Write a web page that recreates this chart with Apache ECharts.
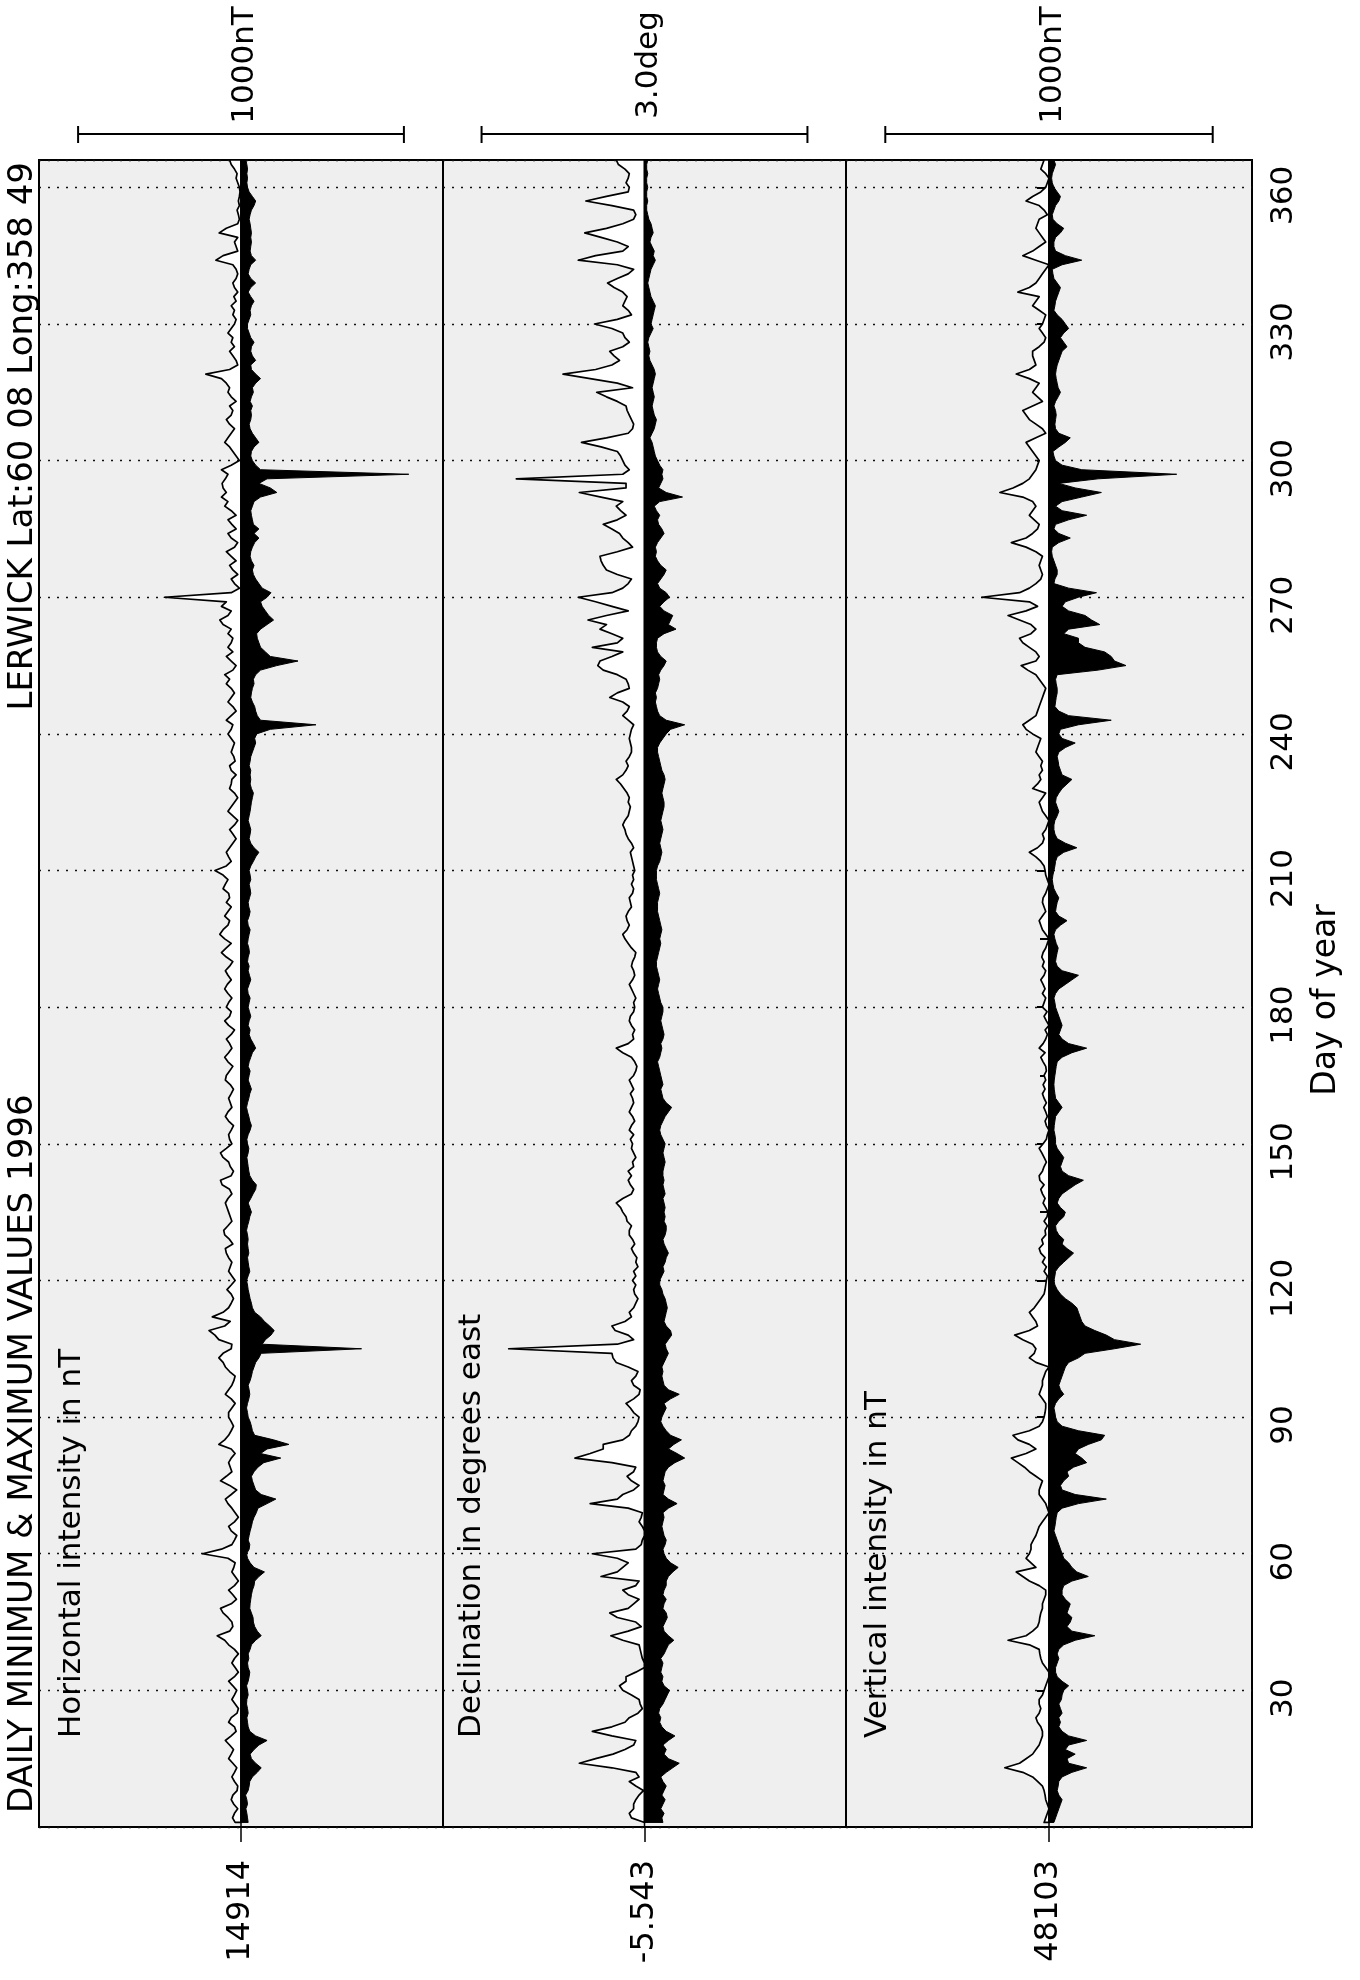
<!DOCTYPE html>
<html>
<head>
<meta charset="utf-8">
<script src="https://cdn.jsdelivr.net/npm/echarts@6/dist/echarts.min.js"></script>
<style>
html,body{margin:0;padding:0;background:#fff;}
#chart{width:1360px;height:1980px;}
</style>
</head>
<body>
<div id="chart"></div>
<script>
// ---------------- data ----------------
const titleText = 'DAILY MINIMUM & MAXIMUM VALUES 1996';
const stationText = 'LERWICK Lat:60 08 Long:358 49';
const panelNames = ['Horizontal intensity in nT', 'Declination in degrees east', 'Vertical intensity in nT'];
const baselines = [14914, -5.543, 48103];
const scaleSpans = [1000, 3.0, 1000];
const scaleLabels = ['1000nT', '3.0deg', '1000nT'];
const panelHalfRange = [620, 1.855, 620];
const dayTicks = [30, 60, 90, 120, 150, 180, 210, 240, 270, 300, 330, 360];
const dayAxisName = 'Day of year';
const days = Array.from({length: 366}, (_, i) => i + 1);

// H: daily maximum above baseline (nT)
const hMax = [
18,26,20,10,22,30,25,12,10,20,
28,20,13,25,38,30,23,35,48,30,
15,20,38,30,12,8,18,28,20,13,
25,38,20,8,18,28,20,8,20,38,
50,73,35,25,28,40,55,63,30,14,
25,38,20,8,18,28,22,18,40,118,
60,28,20,13,30,38,20,8,18,28,
40,48,30,13,35,63,45,28,33,38,
30,18,30,68,50,38,30,23,30,38,
38,28,18,30,48,38,28,22,18,35,
48,55,68,55,30,28,68,80,98,50,
33,88,55,38,30,23,30,43,30,18,
28,38,33,28,38,45,48,25,35,50,
53,40,28,33,38,43,48,40,28,35,
58,63,30,23,33,38,55,63,45,28,
35,38,30,23,38,48,40,28,33,38,
30,23,33,48,45,35,25,40,50,38,
28,35,45,30,20,38,50,35,30,45,
38,28,40,50,42,30,40,48,35,25,
45,60,45,30,50,65,55,40,35,50,
40,30,45,35,38,55,48,40,55,80,
45,30,38,45,35,25,15,25,35,20,
10,25,40,30,20,10,20,35,30,28,
15,30,35,18,22,30,25,20,30,40,
30,25,45,30,15,25,40,30,20,30,
45,35,50,25,15,30,45,25,40,30,
25,40,30,55,65,40,30,60,45,235,
30,5,20,30,10,25,35,15,30,45,
20,10,30,40,15,28,40,15,30,50,
40,60,45,55,58,48,40,60,30,5,
15,25,35,50,40,30,20,35,45,30,
25,35,15,30,40,35,45,60,108,35,
10,15,25,35,20,30,25,40,30,20,
15,25,20,30,15,22,10,20,25,15,
10,15,25,77,55,10,15,20,10,67,
45,10,5,8,12,5,8,5,3,5,
10,15,12,20,30,35];

// H: daily minimum below baseline (nT)
const hMin = [
22,20,18,15,20,18,14,22,25,27,
35,50,62,45,32,28,40,55,80,45,
27,22,20,18,22,20,17,18,22,20,
17,22,25,27,22,20,24,22,28,32,
45,62,50,42,38,37,32,27,28,30,
32,35,40,42,55,72,40,28,20,17,
25,27,22,25,28,32,35,40,47,52,
80,107,62,45,40,35,32,40,52,70,
122,60,80,147,100,42,35,32,28,22,
20,17,20,24,27,25,22,28,32,35,
40,45,55,62,370,65,75,92,102,88,
72,60,42,35,32,28,25,22,20,17,
22,27,24,22,20,24,22,20,22,20,
17,20,24,27,32,27,22,30,37,45,
47,35,27,24,22,20,18,22,24,20,
18,22,28,32,27,24,20,17,20,24,
27,32,27,22,25,28,22,25,30,35,
45,38,30,25,28,22,25,30,26,22,
25,28,22,20,25,30,26,22,25,20,
22,26,24,20,22,25,28,22,20,25,
28,24,22,26,30,28,25,30,28,25,
30,38,45,55,40,30,25,28,30,26,
22,25,28,30,32,35,38,32,28,30,
28,30,25,28,30,35,40,45,42,48,
90,230,60,50,45,42,35,30,32,35,
40,38,45,60,110,175,90,75,60,55,
50,48,60,80,100,85,75,65,60,80,
92,65,55,45,38,35,40,32,28,30,
35,42,55,40,55,38,35,32,30,35,
40,60,110,90,55,80,515,60,45,35,
30,32,40,55,45,35,28,25,30,32,
30,35,28,32,38,35,45,60,45,32,
30,45,35,30,32,40,30,25,20,20,
25,30,28,32,40,30,22,30,45,30,
22,25,30,45,32,28,30,32,30,32,
30,28,25,28,32,40,45,35,25,20,
18,20,18,20,18,15];

// D: daily maximum above baseline (degrees)
const dMax = [
0.0,0.12,0.14,0.1,0.1,0.08,0.05,0.01,0.08,0.14,
0.05,0.08,0.3,0.6,0.45,0.29,0.18,0.1,0.08,0.3,
0.48,0.3,0.18,0.14,0.06,0.02,0.04,0.05,0.12,0.2,
0.23,0.17,0.17,0.08,0.0,0.0,0.02,0.03,0.04,0.05,
0.2,0.31,0.15,0.03,0.08,0.25,0.32,0.15,0.1,0.05,
0.15,0.2,0.08,0.05,0.4,0.25,0.2,0.15,0.25,0.48,
0.08,0.03,0.02,0.0,0.0,0.02,0.05,0.03,0.02,0.15,
0.5,0.25,0.2,0.1,0.05,0.12,0.16,0.1,0.08,0.3,
0.64,0.5,0.38,0.38,0.2,0.14,0.12,0.08,0.06,0.05,
0.1,0.13,0.17,0.1,0.05,0.04,0.1,0.12,0.08,0.06,
0.15,0.26,0.29,0.3,1.25,0.25,0.1,0.15,0.27,0.3,
0.18,0.12,0.14,0.1,0.08,0.06,0.09,0.1,0.08,0.11,
0.08,0.1,0.06,0.08,0.07,0.1,0.12,0.09,0.11,0.14,
0.14,0.12,0.16,0.17,0.2,0.22,0.26,0.2,0.12,0.1,
0.13,0.15,0.12,0.15,0.1,0.11,0.08,0.1,0.12,0.11,
0.13,0.1,0.14,0.12,0.09,0.11,0.14,0.12,0.1,0.11,
0.13,0.1,0.12,0.14,0.1,0.08,0.07,0.09,0.12,0.2,
0.26,0.15,0.1,0.11,0.09,0.12,0.14,0.13,0.1,0.09,
0.1,0.08,0.1,0.12,0.14,0.11,0.09,0.1,0.12,0.11,
0.09,0.08,0.12,0.15,0.18,0.2,0.16,0.14,0.16,0.17,
0.15,0.12,0.13,0.14,0.11,0.1,0.12,0.1,0.11,0.09,
0.1,0.11,0.12,0.13,0.1,0.12,0.15,0.17,0.18,0.2,
0.18,0.15,0.14,0.13,0.15,0.14,0.16,0.19,0.22,0.26,
0.2,0.17,0.15,0.17,0.14,0.12,0.12,0.13,0.14,0.13,
0.12,0.1,0.15,0.2,0.16,0.14,0.2,0.32,0.25,0.14,
0.15,0.17,0.25,0.38,0.43,0.41,0.3,0.2,0.48,0.25,
0.2,0.3,0.41,0.35,0.52,0.35,0.15,0.3,0.45,0.61,
0.3,0.2,0.15,0.12,0.25,0.35,0.38,0.4,0.41,0.25,
0.11,0.15,0.2,0.23,0.3,0.38,0.25,0.17,0.22,0.26,
0.2,0.4,0.6,0.17,0.17,1.18,0.2,0.14,0.18,0.2,
0.22,0.25,0.4,0.58,0.35,0.15,0.11,0.1,0.12,0.14,
0.16,0.17,0.25,0.35,0.44,0.11,0.25,0.5,0.75,0.45,
0.3,0.23,0.28,0.32,0.2,0.14,0.18,0.2,0.3,0.46,
0.25,0.12,0.15,0.2,0.18,0.16,0.2,0.28,0.34,0.25,
0.15,0.1,0.25,0.61,0.45,0.2,0.15,0.25,0.4,0.55,
0.35,0.2,0.1,0.08,0.1,0.3,0.54,0.35,0.15,0.14,
0.17,0.15,0.14,0.18,0.24,0.26];

// D: daily minimum below baseline (degrees)
const dMin = [
0.17,0.16,0.18,0.15,0.17,0.19,0.16,0.18,0.2,0.17,
0.15,0.2,0.26,0.32,0.22,0.18,0.2,0.17,0.22,0.28,
0.2,0.16,0.14,0.15,0.13,0.14,0.17,0.19,0.21,0.23,
0.18,0.16,0.17,0.15,0.16,0.17,0.15,0.18,0.2,0.22,
0.27,0.22,0.18,0.17,0.19,0.21,0.2,0.17,0.18,0.2,
0.17,0.18,0.2,0.2,0.22,0.26,0.31,0.24,0.2,0.18,
0.17,0.19,0.2,0.18,0.17,0.16,0.17,0.18,0.17,0.22,
0.3,0.22,0.17,0.18,0.19,0.17,0.18,0.19,0.22,0.28,
0.37,0.3,0.22,0.27,0.34,0.24,0.2,0.17,0.15,0.16,
0.18,0.2,0.18,0.24,0.32,0.22,0.18,0.17,0.16,0.17,
0.16,0.18,0.2,0.22,0.2,0.19,0.22,0.25,0.24,0.2,
0.18,0.19,0.2,0.21,0.2,0.19,0.17,0.16,0.14,0.14,
0.16,0.18,0.17,0.19,0.2,0.22,0.2,0.18,0.17,0.19,
0.2,0.2,0.18,0.19,0.18,0.19,0.18,0.17,0.19,0.18,
0.17,0.18,0.17,0.17,0.18,0.19,0.18,0.17,0.18,0.19,
0.17,0.15,0.14,0.15,0.17,0.19,0.22,0.25,0.2,0.17,
0.16,0.15,0.17,0.16,0.15,0.14,0.13,0.12,0.14,0.15,
0.16,0.15,0.17,0.18,0.17,0.16,0.15,0.16,0.17,0.17,
0.15,0.14,0.13,0.12,0.13,0.14,0.13,0.12,0.11,0.11,
0.12,0.13,0.14,0.15,0.14,0.15,0.16,0.15,0.14,0.13,
0.12,0.12,0.12,0.13,0.14,0.13,0.12,0.11,0.11,0.11,
0.12,0.14,0.15,0.16,0.15,0.14,0.15,0.16,0.17,0.16,
0.15,0.16,0.17,0.18,0.18,0.17,0.16,0.17,0.18,0.19,
0.18,0.16,0.15,0.14,0.13,0.12,0.12,0.14,0.17,0.2,
0.24,0.37,0.2,0.14,0.12,0.11,0.1,0.11,0.1,0.12,
0.13,0.14,0.13,0.15,0.18,0.2,0.15,0.12,0.11,0.11,
0.12,0.18,0.29,0.22,0.24,0.26,0.18,0.14,0.18,0.23,
0.2,0.14,0.12,0.15,0.18,0.2,0.15,0.12,0.1,0.11,
0.1,0.12,0.15,0.18,0.16,0.13,0.12,0.14,0.11,0.09,
0.14,0.35,0.2,0.13,0.15,0.17,0.16,0.17,0.14,0.12,
0.1,0.09,0.08,0.07,0.05,0.07,0.09,0.1,0.11,0.09,
0.08,0.07,0.08,0.09,0.08,0.07,0.08,0.09,0.1,0.09,
0.07,0.05,0.04,0.05,0.04,0.03,0.04,0.06,0.08,0.06,
0.07,0.08,0.09,0.1,0.08,0.06,0.05,0.04,0.03,0.04,
0.05,0.06,0.08,0.1,0.08,0.09,0.07,0.05,0.06,0.08,
0.07,0.06,0.04,0.03,0.02,0.02,0.03,0.02,0.02,0.03,
0.02,0.02,0.03,0.02,0.02,0.03];

// Z: daily maximum above baseline (nT)
const zMax = [
15,10,5,0,5,10,12,15,20,35,
50,80,135,90,70,50,40,30,25,20,
20,25,35,40,30,25,30,30,20,15,
10,5,0,0,10,20,25,28,30,60,
125,70,50,35,30,28,25,20,20,15,
10,10,30,60,80,100,40,55,70,60,
55,55,48,40,35,30,20,10,0,5,
10,20,30,30,25,20,40,60,75,95,
115,70,40,60,95,110,60,30,20,15,
12,10,10,20,30,25,20,20,15,10,
0,40,60,45,40,50,80,105,60,35,
40,50,60,45,35,25,15,12,10,8,
5,15,8,20,12,25,30,18,22,10,
12,5,15,6,3,10,18,12,20,25,
15,28,30,20,15,8,15,22,30,18,
8,5,0,8,12,5,10,16,8,15,
20,12,18,10,15,8,10,18,25,12,
30,18,10,5,12,0,8,15,6,20,
15,10,20,12,18,25,15,10,20,15,
22,18,10,5,0,10,20,25,30,20,
10,15,20,18,10,5,0,5,10,12,
15,25,40,60,35,20,15,20,10,5,
0,10,20,25,30,20,10,50,35,25,
30,20,25,20,30,40,35,30,25,50,
70,80,60,40,35,30,25,20,15,10,
20,30,40,65,85,40,30,40,60,80,
90,55,40,55,90,125,70,35,60,205,
90,60,40,25,20,25,30,25,20,40,
70,115,70,50,35,30,45,60,50,40,
50,80,150,110,80,60,50,40,35,30,
40,50,60,70,40,10,20,40,60,70,
80,50,20,35,50,40,30,60,100,60,
40,45,50,50,30,15,10,20,30,20,
15,10,30,50,40,30,95,60,40,30,
20,10,0,40,80,50,30,10,20,30,
40,35,30,5,15,30,70,50,25,10,
5,0,10,25,20,15];

// Z: daily minimum below baseline (nT)
const zMin = [
15,20,25,30,35,40,30,25,28,30,
40,70,115,60,55,80,50,60,115,60,
40,30,35,30,40,35,30,38,40,45,
60,40,25,20,20,25,30,25,30,45,
80,140,70,55,65,70,55,60,65,50,
40,40,45,70,120,85,70,60,45,40,
35,30,25,20,15,18,20,22,25,40,
90,175,80,40,35,45,60,55,75,115,
100,80,90,120,160,170,90,40,25,20,
18,15,20,30,45,35,30,35,40,45,
50,60,90,110,200,280,200,175,140,110,
100,95,90,85,70,50,35,25,18,15,
18,20,30,45,60,75,55,40,45,30,
22,20,30,45,50,35,25,30,40,60,
80,105,60,40,35,40,45,35,25,20,
20,18,15,16,18,20,30,40,30,20,
18,16,15,16,18,20,22,25,40,70,
115,60,40,30,35,40,35,30,25,20,
18,15,20,30,50,70,90,40,25,20,
22,25,28,22,18,15,20,35,55,30,
20,22,25,30,22,15,12,10,12,15,
18,20,25,45,85,50,25,18,15,15,
18,25,30,25,20,22,30,40,55,70,
40,35,30,28,25,30,50,80,40,30,
35,90,190,60,30,18,20,22,25,25,
22,20,25,150,235,200,190,170,110,90,
90,45,60,155,130,110,60,40,50,90,
145,60,15,18,25,25,20,15,10,8,
10,30,65,30,15,20,60,115,40,20,
40,100,160,80,30,150,390,100,40,20,
15,12,30,50,65,30,20,18,20,22,
20,15,20,28,35,28,25,22,20,22,
25,30,35,40,55,45,35,45,60,50,
40,25,15,18,20,25,30,35,25,15,
12,10,40,100,50,20,15,15,20,35,
45,25,12,10,15,20,30,35,25,15,
10,8,10,15,20,15];

// ---------------- chart ----------------
const FONT = '"DejaVu Sans", "Liberation Sans", sans-serif';
const maxSets = [hMax, dMax, zMax];
const minSets = [hMin, dMin, zMin];
const gridBoxes = [
  {left: 39, top: 160, width: 404, height: 1667},
  {left: 443, top: 160, width: 403, height: 1667},
  {left: 846, top: 160, width: 406, height: 1667}
];

function polyRender(fill, stroke, lw) {
  return function (params, api) {
    if (params.dataIndexInside !== 0) return null;
    const n = params.dataInsideLength;
    const pts = [api.coord([0, api.value(1, 0)])];
    for (let k = 0; k < n; k++) {
      pts.push(api.coord([api.value(0, k), api.value(1, k)]));
    }
    pts.push(api.coord([0, api.value(1, n - 1)]));
    return {
      type: 'polygon',
      shape: {points: pts},
      style: {fill: fill, stroke: stroke, lineWidth: lw, lineJoin: 'round'}
    };
  };
}

const series = [];
const xAxes = [];
const yAxes = [];
for (let i = 0; i < 3; i++) {
  xAxes.push({
    gridIndex: i, type: 'value', min: -panelHalfRange[i], max: panelHalfRange[i], inverse: true,
    position: 'bottom',
    axisLine: {show: false},
    splitLine: {show: false},
    axisTick: {show: true, customValues: [0], inside: false, length: 15,
      lineStyle: {color: '#000', width: 1.5}},
    axisLabel: {show: true, customValues: [0], formatter: (function (b) { return function () { return String(b); }; })(baselines[i]),
      rotate: 90, margin: 33, fontSize: 32, fontFamily: FONT, color: '#000'}
  });
  yAxes.push({
    gridIndex: i, type: 'value', min: 0, max: 366, interval: 30,
    position: 'right',
    axisLine: {show: false},
    axisTick: {show: i === 2, inside: true, length: 12, lineStyle: {color: '#000', width: 2}},
    minorTick: {show: i === 2, splitNumber: 2, length: 9, lineStyle: {color: '#000', width: 2}},
    axisLabel: {show: i === 2, rotate: 90, margin: 16, fontSize: 31, fontFamily: FONT, color: '#000',
      showMinLabel: false, padding: [0, 16, 0, 0],
      formatter: function (v) { return dayTicks.indexOf(v) >= 0 ? String(v) : ''; }},
    splitLine: {show: true, lineStyle: {color: '#111', width: 1.3, type: [2, 7]}},
    minorSplitLine: {show: false}
  });
  series.push({
    type: 'custom', name: 'max' + i, coordinateSystem: 'cartesian2d',
    xAxisIndex: i, yAxisIndex: i, silent: true, z: 3,
    encode: {x: 0, y: 1},
    data: maxSets[i].map(function (v, k) { return [v, days[k]]; }),
    renderItem: polyRender('#ffffff', '#000000', 1.7)
  });
  series.push({
    type: 'custom', name: 'min' + i, coordinateSystem: 'cartesian2d',
    xAxisIndex: i, yAxisIndex: i, silent: true, z: 4,
    encode: {x: 0, y: 1},
    data: minSets[i].map(function (v, k) { return [-v, days[k]]; }),
    renderItem: polyRender('#000000', '#000000', 1)
  });
  series.push({
    type: 'line', name: 'base' + i, xAxisIndex: i, yAxisIndex: i, silent: true, z: 5,
    symbol: 'none', animation: false,
    lineStyle: {color: '#000', width: 1.5},
    data: [[0, 0], [0, 366]]
  });
}

const chart = echarts.init(document.getElementById('chart'), null, {renderer: 'canvas'});
const option = {
  animation: false,
  backgroundColor: '#ffffff',
  grid: gridBoxes.map(function (g) {
    return Object.assign({show: true, backgroundColor: '#efefef', borderColor: '#000', borderWidth: 2, containLabel: false}, g);
  }),
  xAxis: xAxes,
  yAxis: yAxes,
  series: series
};
chart.setOption(option);

// texts and scale bars
function vtext(str, x, y, align, size) {
  return {
    type: 'text', x: x, y: y, rotation: Math.PI / 2, silent: true, z: 10,
    style: {text: str, font: (size || 32) + 'px ' + FONT, fill: '#000',
      align: align, verticalAlign: 'middle', textAlign: align, textVerticalAlign: 'middle'}
  };
}
const graphics = [];
graphics.push(vtext(titleText, 23, 1813, 'left', 34));
graphics.push(vtext(stationText, 23, 162, 'right', 34));
const labelX = [72, 472, 878];
for (let i = 0; i < 3; i++) {
  graphics.push(vtext(panelNames[i], labelX[i], 1738, 'left', 31));
  const half = scaleSpans[i] / 2;
  const xa = chart.convertToPixel({xAxisIndex: i}, half);
  const xb = chart.convertToPixel({xAxisIndex: i}, -half);
  const x1 = Math.min(xa, xb), x2 = Math.max(xa, xb);
  graphics.push({type: 'line', silent: true, shape: {x1: x1, y1: 134, x2: x2, y2: 134}, style: {stroke: '#000', lineWidth: 2}});
  graphics.push({type: 'line', silent: true, shape: {x1: x1, y1: 126, x2: x1, y2: 143}, style: {stroke: '#000', lineWidth: 2}});
  graphics.push({type: 'line', silent: true, shape: {x1: x2, y1: 126, x2: x2, y2: 143}, style: {stroke: '#000', lineWidth: 2}});
  graphics.push(vtext(scaleLabels[i], (x1 + x2) / 2 + 4, 65, 'center', 31));
}
graphics.push(vtext(dayAxisName, 1326, 1000, 'center', 33));
chart.setOption({graphic: graphics});
</script>
</body>
</html>
